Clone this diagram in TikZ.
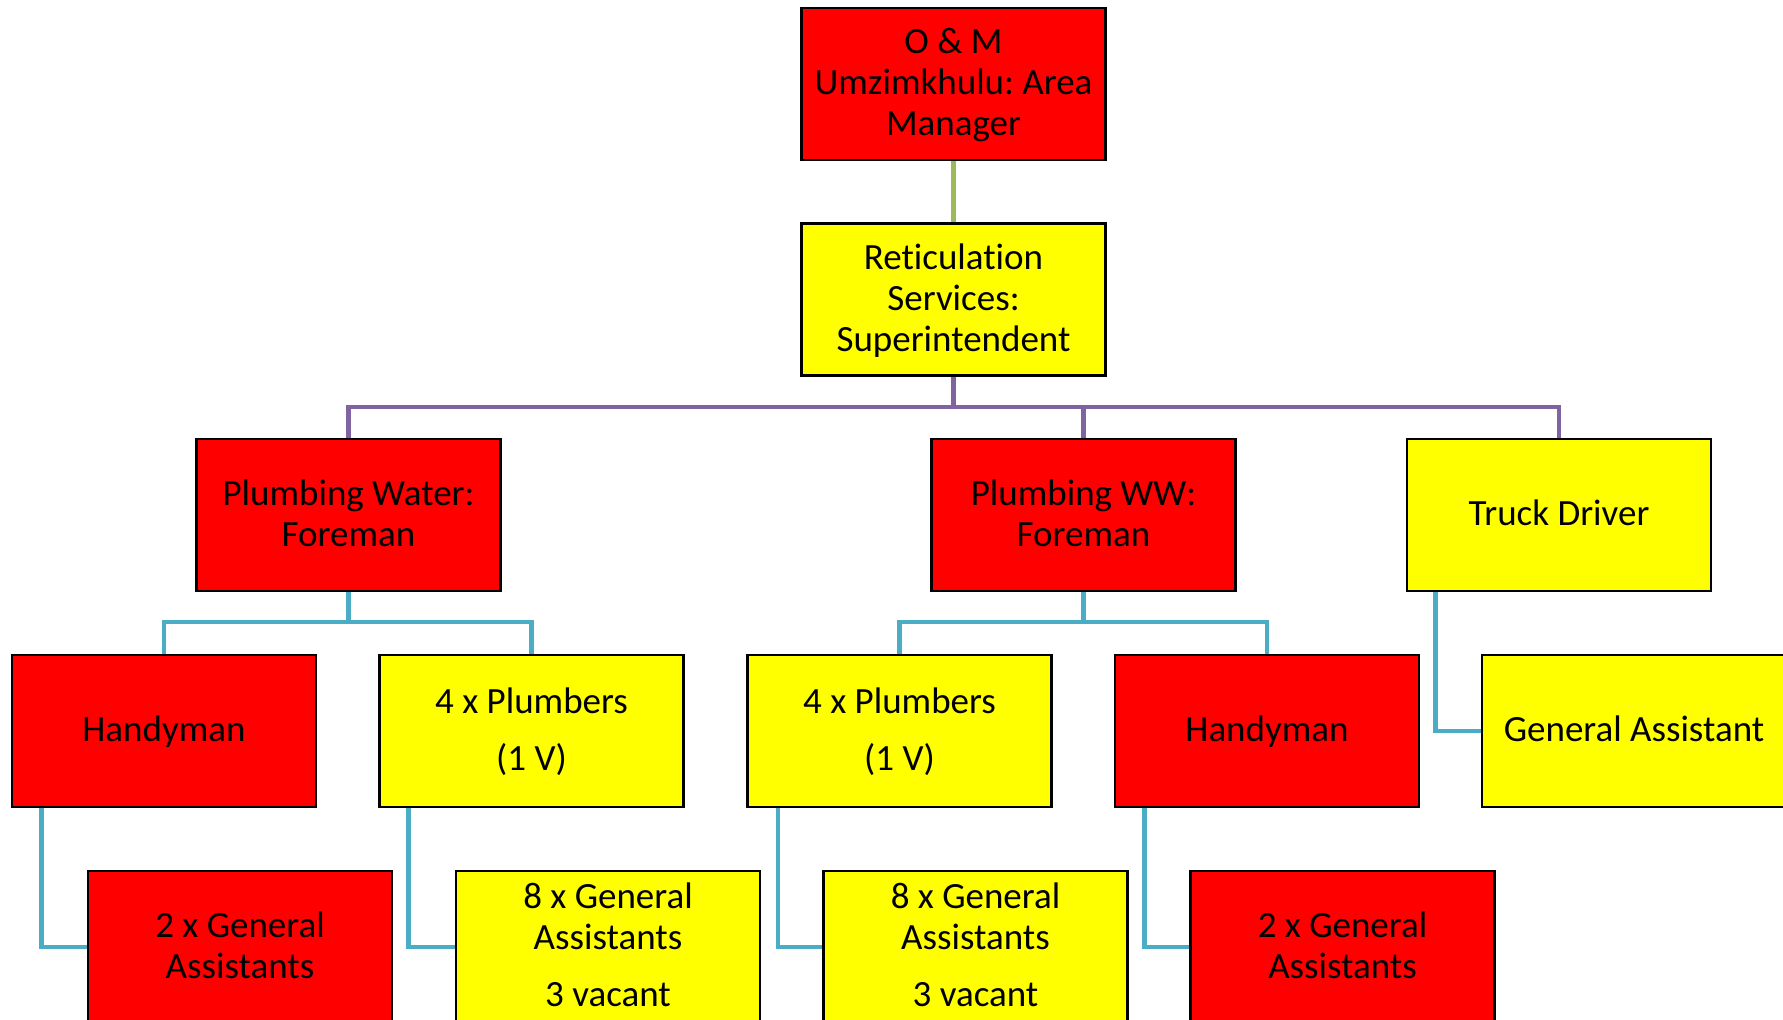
\documentclass[tikz,border=0pt]{standalone}
\usepackage{fontspec}
\setmainfont[Ligatures=NoCommon]{Carlito}
\usetikzlibrary{backgrounds}
\frenchspacing
\newcommand\mystrut{\rule[-5pt]{0pt}{20.5pt}}
\definecolor{orgpurple}{HTML}{8064A2}
\definecolor{orgcyan}{HTML}{4BACC6}
\definecolor{orggreen}{HTML}{9BBB59}
\definecolor{orgred}{HTML}{FF0000}
\definecolor{orgyellow}{HTML}{FFFF00}
\begin{document}
\begin{tikzpicture}[x=0.5pt,y=-0.5pt,
  box/.style={draw=black, line width=1.35pt, minimum width=152pt, minimum height=76pt,
    inner sep=0pt, align=center, font=\fontsize{18.5pt}{20.5pt}\selectfont, text=black},
  redbox/.style={box, fill=orgred},
  yelbox/.style={box, fill=orgyellow},
  link/.style={line width=2.2pt},
  greenline/.style={link, draw=orggreen},
  purpleline/.style={link, draw=orgpurple},
  cyanline/.style={link, draw=orgcyan}]
\useasboundingbox (0,0) rectangle (1783,1019);
\clip (0,0) rectangle (1783,1019);

\node[redbox] (top) at (953.5,84) {\mystrut O \& M\\\mystrut Umzimkhulu: Area\\\mystrut Manager};
\node[yelbox] (sup) at (953.5,299.5) {\mystrut Reticulation\\\mystrut Services:\\\mystrut Superintendent};

\node[redbox] (pw) at (348.5,515) {\mystrut Plumbing Water:\\\mystrut Foreman};
\node[redbox] (pww) at (1083.5,515) {\mystrut Plumbing WW:\\\mystrut Foreman};
\node[yelbox] (truck) at (1559,515) {\mystrut Truck Driver};

\node[redbox] (h1) at (164,731) {\mystrut Handyman};
\node[yelbox] (p1) at (531.5,731) {\mystrut 4 x Plumbers\\[8pt]\mystrut (1 V)};
\node[yelbox] (p2) at (899.5,731) {\mystrut 4 x Plumbers\\[8pt]\mystrut (1 V)};
\node[redbox] (h2) at (1267,731) {\mystrut Handyman};
\node[yelbox] (ga) at (1634,731) {\mystrut General Assistant};

\node[redbox] (g1) at (240,947) {\mystrut 2 x General\\\mystrut Assistants};
\node[yelbox] (g2) at (608,947) {\mystrut 8 x General\\\mystrut Assistants\\[8pt]\mystrut 3 vacant};
\node[yelbox] (g3) at (975.5,947) {\mystrut 8 x General\\\mystrut Assistants\\[8pt]\mystrut 3 vacant};
\node[redbox] (g4) at (1342.5,947) {\mystrut 2 x General\\\mystrut Assistants};

\coordinate (pbus) at (0,407);
\coordinate (cbus) at (0,622);

\begin{scope}[on background layer]
\draw[greenline] (top.south) -- (sup.north);
\draw[purpleline] (sup.south) -- (sup.south |- pbus);
\draw[purpleline] (pw.north) |- (truck.north |- pbus) -- (truck.north);
\draw[purpleline] (pww.north) -- (pww.north |- pbus);

\draw[cyanline] (pw.south) -- (pw.south |- cbus);
\draw[cyanline] (h1.north) |- (p1.north |- cbus) -- (p1.north);
\draw[cyanline] (pww.south) -- (pww.south |- cbus);
\draw[cyanline] (p2.north) |- (h2.north |- cbus) -- (h2.north);

\draw[cyanline] ([xshift=15pt]truck.south west) |- (ga.west);
\draw[cyanline] ([xshift=15.5pt]h1.south west) |- (g1.west);
\draw[cyanline] ([xshift=15.25pt]p1.south west) |- (g2.west);
\draw[cyanline] ([xshift=16pt]p2.south west) |- (g3.west);
\draw[cyanline] ([xshift=15.5pt]h2.south west) |- (g4.west);
\end{scope}
\end{tikzpicture}
\end{document}
